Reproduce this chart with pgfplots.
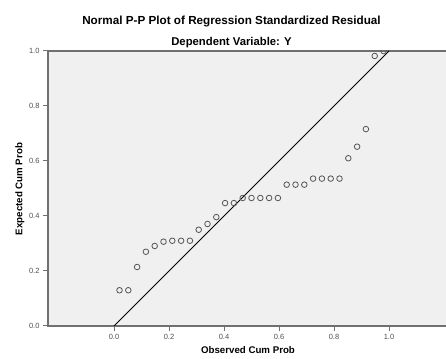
\documentclass[border=0pt]{standalone}
\usepackage{fontspec}
\setmainfont{Liberation Sans}
\usepackage{pgfplots}
\pgfplotsset{compat=1.18}
\definecolor{axgray}{RGB}{112,112,112}
\definecolor{mkgray}{RGB}{85,85,85}
\definecolor{tkgray}{RGB}{80,80,80}
\begin{document}
\begin{tikzpicture}
\useasboundingbox (0pt,0pt) rectangle (446pt,358pt);
\begin{axis}[
  at={(48pt,32pt)}, anchor=south west,
  scale only axis, width=402pt, height=275pt,
  xmin=-0.24, xmax=1.2218, ymin=0, ymax=1,
  xtick={0,0.2,0.4,0.6,0.8,1.0},
  ytick={0,0.2,0.4,0.6,0.8,1.0},
  /pgf/number format/.cd, fixed, fixed zerofill, precision=1, assume math mode=true,
  /pgfplots/.cd,
  xtick pos=bottom, ytick pos=left,
  tick align=outside, major tick length=5pt,
  tick style={axgray, line width=1pt},
  tick label style={font=\fontsize{7.5}{9}\selectfont, text=tkgray},
  axis line style={axgray, line width=1.3pt},
  axis background/.style={fill=gray!12},
  xlabel={Observed Cum Prob},
  ylabel={Expected Cum Prob},
  label style={font=\bfseries\fontsize{9.7}{11}\selectfont},
  xlabel style={at={(axis description cs:0.4975,-0.087)}, anchor=center},
  ylabel style={at={(axis description cs:-0.0697,0.498)}, anchor=center},
  clip marker paths=true,
]
\addplot[black, line width=0.8pt] coordinates {(0,0) (1,1)};
\addplot[only marks, mark=o, mark size=2.8pt, mark options={mkgray, line width=0.8pt}] coordinates {
(0.020,0.130) (0.052,0.130) (0.084,0.2145) (0.116,0.270) (0.148,0.291)
(0.180,0.3066) (0.212,0.310) (0.244,0.310) (0.276,0.310) (0.308,0.350)
(0.340,0.371) (0.372,0.396) (0.404,0.447) (0.436,0.447) (0.468,0.4655)
(0.500,0.4655) (0.532,0.4655) (0.564,0.4655) (0.596,0.4655) (0.628,0.514)
(0.660,0.514) (0.692,0.514) (0.724,0.536) (0.756,0.536) (0.788,0.536)
(0.820,0.536) (0.852,0.610) (0.884,0.652) (0.916,0.716) (0.948,0.982)
(0.980,1.000)
};
\end{axis}
\node[font=\bfseries\fontsize{11.7}{14}\selectfont] at (231.5pt,336pt) {Normal P-P Plot of Regression Standardized Residual};
\node[font=\bfseries\fontsize{11.3}{14}\selectfont] at (231.5pt,315pt) {Dependent Variable: Y};
\end{tikzpicture}
\end{document}
